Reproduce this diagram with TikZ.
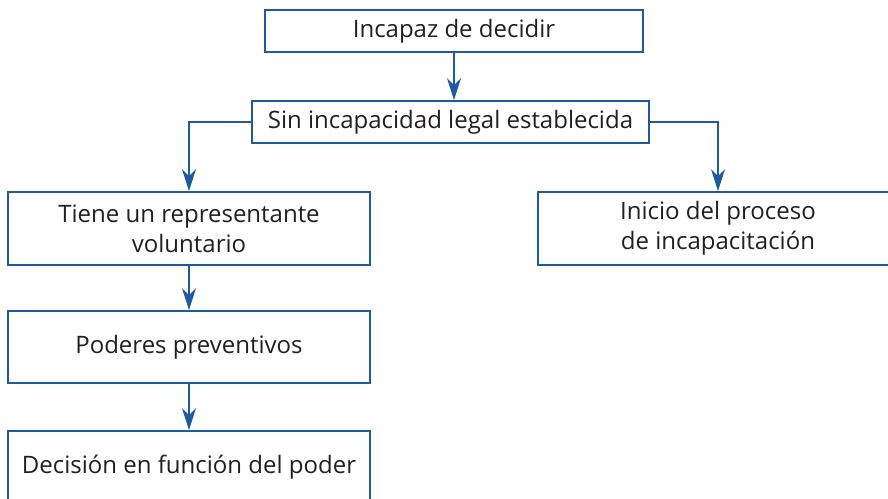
\documentclass[tikz,border=0pt]{standalone}
\usepackage{fontspec}
\setmainfont{Open Sans}
\usetikzlibrary{arrows.meta}
\definecolor{lineblue}{HTML}{1F5A9E}
\definecolor{txt}{HTML}{231F20}
\tikzset{
  box/.style={draw=lineblue, line width=1.8pt, rectangle, inner sep=0pt, text=txt, align=center, font=\fontsize{24}{30}\selectfont},
  conn/.style={draw=lineblue, line width=1.4pt, -{Stealth[length=22pt,width=14pt,inset=7pt]}}
}
\begin{document}
\begin{tikzpicture}[x=1pt,y=-1pt]
\useasboundingbox (0,0) rectangle (888,498);
\node[box, minimum width=378pt, minimum height=42pt] (n1) at (454,31) {Incapaz de decidir};
\node[box, minimum width=397pt, minimum height=42pt] (n2) at (450.5,122) {Sin incapacidad legal establecida};
\node[box, minimum width=362pt, minimum height=73pt] (n3) at (189,228.5) {Tiene un representante\\voluntario};
\node[box, minimum width=360pt, minimum height=73pt] (n4) at (718,228.5) {Inicio del proceso\\de incapacitación};
\node[box, minimum width=362pt, minimum height=72pt] (n5) at (189,347) {Poderes preventivos};
\node[box, minimum width=362pt, minimum height=73pt] (n6) at (189,467.5) {Decisión en función del poder};
\draw[conn] (n1.south) -- (n1.south |- n2.north);
\draw[conn] (n2.west) -| (n3.north);
\draw[conn] (n2.east) -| (n4.north);
\draw[conn] (n3.south) -- (n5.north);
\draw[conn] (n5.south) -- (n6.north);
\end{tikzpicture}
\end{document}
